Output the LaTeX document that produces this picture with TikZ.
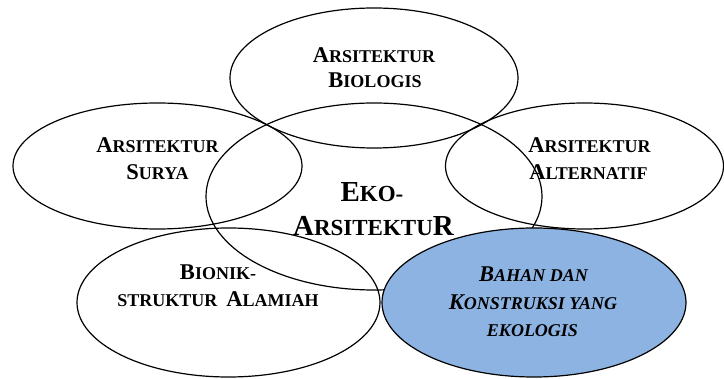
\documentclass[tikz,border=0pt]{standalone}
\usepackage{fontspec}
\setmainfont{Liberation Serif}
\usetikzlibrary{shapes.geometric}
\definecolor{bluefill}{HTML}{8DB3E2}
\newcommand\Lg[1]{{\fontsize{22.5}{27}\selectfont #1}}
\newcommand\LgE[1]{{\fontsize{29}{33}\selectfont #1}}
\tikzset{
  bubble/.style={ellipse, draw=black, line width=1.2pt, inner sep=0pt},
  lbl/.style={anchor=base, inner sep=0pt, font=\bfseries\fontsize{18}{27}\selectfont},
  lbleko/.style={anchor=base, inner sep=0pt, font=\bfseries\fontsize{23}{33}\selectfont},
  lblit/.style={anchor=base, inner sep=0pt, font=\bfseries\itshape\fontsize{18}{27}\selectfont},
}
\begin{document}
\begin{tikzpicture}[x=1pt,y=-1pt]
\useasboundingbox (0,0) rectangle (724,379);
% ellipses
\node[bubble, minimum width=336pt, minimum height=187pt] (eko) at (374,196.5) {};
\node[bubble, minimum width=288pt, minimum height=140pt] (bio) at (374,78) {};
\node[bubble, minimum width=289pt, minimum height=126pt] (surya) at (157.5,166) {};
\node[bubble, minimum width=278pt, minimum height=126pt] (alt) at (584.5,166) {};
\node[bubble, minimum width=303pt, minimum height=149pt] (bionik) at (228.5,302.5) {};
\node[bubble, fill=bluefill, minimum width=304pt, minimum height=149pt] (bahan) at (534,302.5) {};
% labels
\node[lbl] (bio1) at (374,63) {\Lg{A}RSITEKTUR};
\node[lbl] (bio2) at (375,88) {\Lg{B}IOLOGIS};
\node[lbl] (sur1) at (157.5,152.5) {\Lg{A}RSITEKTUR};
\node[lbl] (sur2) at (157.5,180) {\Lg{S}URYA};
\node[lbl] (alt1) at (589.5,153) {\Lg{A}RSITEKTUR};
\node[lbl] (alt2) at (588.5,180) {\Lg{A}LTERNATIF};
\node[lbleko] (eko1) at (372,202) {\LgE{E}KO-};
\node[lbleko] (eko2) at (373.5,236) {\LgE{A}RSITEKTU\LgE{R}};
\node[lbl] (bion1) at (218,280) {\Lg{B}IONIK-};
\node[lbl] (bion2) at (218,307) {STRUKTUR~ \Lg{A}LAMIAH};
\node[lblit] (bah1) at (533.5,282) {\Lg{B}AHAN DAN};
\node[lblit] (bah2) at (533,310) {\Lg{K}ONSTRUKSI YANG};
\node[lblit] (bah3) at (532.5,337) {EKOLOGIS};
\end{tikzpicture}
\end{document}
